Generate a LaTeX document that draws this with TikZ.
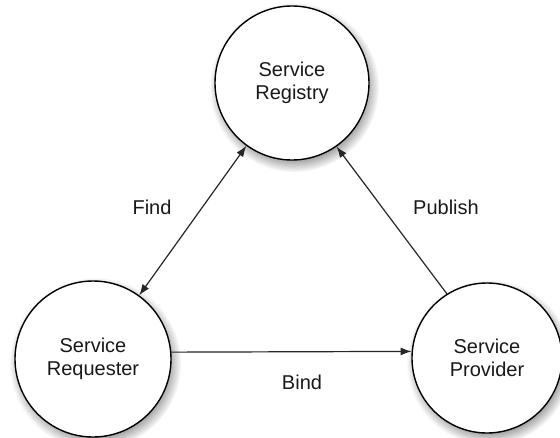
\documentclass[tikz,border=0pt]{standalone}
\usepackage{fontspec}
\setmainfont{Liberation Sans}
\usetikzlibrary{arrows.meta,shadows}
\begin{document}
\begin{tikzpicture}[x=1pt,y=-1pt,
  svc/.style={circle,draw=black,line width=1.4pt,fill=white,inner sep=0pt,
    align=center,text=black!90,font=\fontsize{20}{23}\selectfont,
    circular drop shadow={shadow xshift=2pt,shadow yshift=-4pt,fill=black!35,opacity=1}},
  lbl/.style={text=black!90,font=\fontsize{20}{23}\selectfont,inner sep=0pt},
  conn/.style={line width=1.2pt,black!85},
  tip/.style={-{Latex[length=11pt,width=8pt]}}]
\fill[white] (0,0) rectangle (560,437);
\useasboundingbox (0,0) rectangle (560,437);
\node[svc,minimum size=154pt] (reg) at (292,83) {Service\\Registry};
\node[svc,minimum size=156pt] (req) at (93,359) {Service\\Requester};
\node[svc,minimum size=150pt] (prov) at (487,358) {Service\\Provider};
\node[lbl] (lfind) at (152,207) {Find};
\node[lbl] (lpub) at (446,207) {Publish};
\node[lbl] (lbind) at (302,382) {Bind};
\draw[conn,{Latex[length=11pt,width=8pt]}-{Latex[length=11pt,width=8pt]}] (reg.234) -- (req.54);
\draw[conn,tip] (prov.122) -- (reg.305);
\draw[conn,tip] (req.5) -- (prov.175);
\end{tikzpicture}
\end{document}
